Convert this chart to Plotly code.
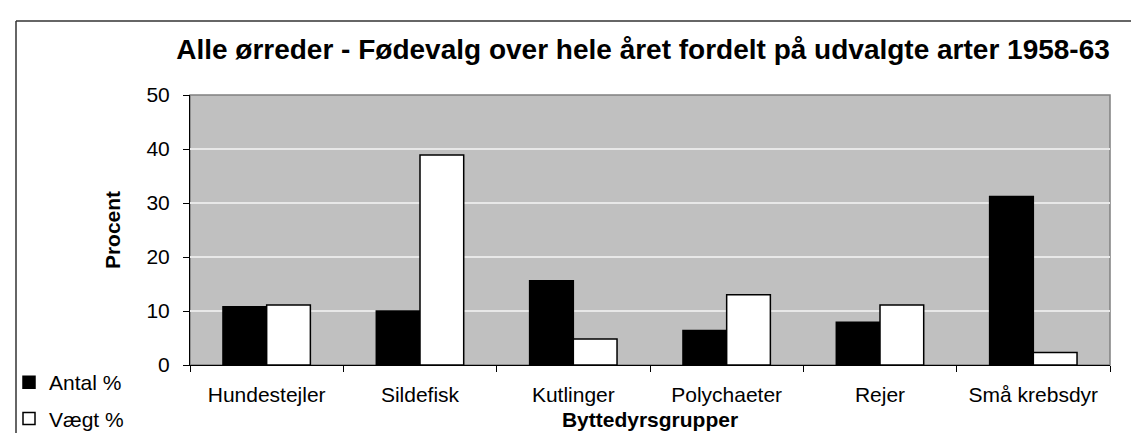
import plotly.graph_objects as go

categories = ["Hundestejler", "Sildefisk", "Kutlinger", "Polychaeter", "Rejer", "Små krebsdyr"]
antal = [10.8, 10.0, 15.6, 6.4, 7.9, 31.2]
vaegt = [11.1, 38.9, 4.8, 13.0, 11.1, 2.3]
series_names = ["Antal %", "Vægt %"]
y_ticks = [0, 10, 20, 30, 40, 50]

FONT = "Liberation Sans, Arial, sans-serif"
W, H = 1139, 433
L, R, T, B = 182, 37, 87, 76
pw, ph = W - L - R, H - T - B

fig = go.Figure()
fig.add_trace(go.Bar(x=categories, y=antal, name=series_names[0], legendgroup="a",
                     marker=dict(color="black", line=dict(color="black", width=1.5))))
fig.add_trace(go.Bar(x=categories, y=vaegt, name=series_names[1], legendgroup="b",
                     marker=dict(color="white", line=dict(color="black", width=1.5))))

def px_x(p):
    return (p - L) / pw

def px_y(p):
    return (H - B - p) / ph

fig.update_layout(
    width=W, height=H,
    margin=dict(l=L, r=R, t=T, b=B, autoexpand=False),
    paper_bgcolor="white",
    plot_bgcolor="#C0C0C0",
    barmode="group",
    bargap=0.43,
    bargroupgap=0,
    font=dict(family=FONT, size=21, color="black"),
    title=dict(text="<b>Alle ørreder - Fødevalg over hele året fordelt på udvalgte arter 1958-63</b>",
               x=px_x(635), xref="paper", xanchor="center",
               y=1 - 41 / H, yref="container", yanchor="middle",
               font=dict(family=FONT, size=28, color="black")),
    xaxis=dict(
        title=dict(text="<b>Byttedyrsgrupper</b>", standoff=7, font=dict(size=21)),
        automargin=False,
        showline=True, linecolor="black", linewidth=1,
        ticks="outside", ticklen=6, tickcolor="black", tickson="boundaries",
        ticklabelstandoff=11,
        showgrid=False, tickfont=dict(size=21),
    ),
    yaxis=dict(
        title=dict(text="<b>Procent</b>", standoff=20, font=dict(size=21)),
        automargin=False,
        range=[0, 50], tickvals=y_ticks,
        showline=True, linecolor="black", linewidth=1,
        ticks="outside", ticklen=6, tickcolor="black",
        ticklabelstandoff=9,
        showgrid=True, gridcolor="#E8E8E8", gridwidth=1.5,
        zeroline=False, tickfont=dict(size=21),
    ),
    legend=dict(
        x=px_x(1), xanchor="left", y=px_y(354), yanchor="top",
        traceorder="grouped", tracegroupgap=6,
        font=dict(size=21), bgcolor="rgba(0,0,0,0)",
        itemwidth=30,
    ),
    showlegend=True,
    shapes=[
        dict(type="rect", xref="paper", yref="paper", x0=0, x1=1, y0=0, y1=1,
             line=dict(color="#808080", width=1.5), layer="below"),
        dict(type="line", xref="paper", yref="paper",
             x0=px_x(8), x1=px_x(W + 5), y0=px_y(13), y1=px_y(13),
             line=dict(color="#333333", width=1.5)),
        dict(type="line", xref="paper", yref="paper",
             x0=px_x(8), x1=px_x(8), y0=px_y(13), y1=px_y(H + 5),
             line=dict(color="#333333", width=1.5)),
    ],
)

fig.write_html("out.html")
